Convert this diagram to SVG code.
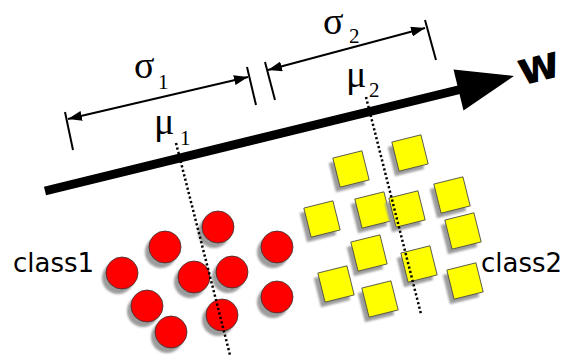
<svg xmlns="http://www.w3.org/2000/svg" xmlns:xlink="http://www.w3.org/1999/xlink" width="568" height="358" viewBox="0 0 568 358">
<style>
.shadow{fill:#9c9c9c;}
.dotf{fill:#ff0000;stroke:#333;stroke-width:0.8;}
.sqf{fill:#ffff00;stroke:#444;stroke-width:0.8;}
.lbl{font-family:"DejaVu Sans",Verdana,sans-serif;font-size:26px;fill:#000;}
.w{font-family:"DejaVu Sans","Liberation Sans",sans-serif;font-weight:bold;font-size:46px;fill:#000;}
.gk{font-family:"Liberation Serif","Times New Roman",serif;font-size:38px;fill:#000;}
.sub{font-family:"Liberation Serif","Times New Roman",serif;font-size:21px;fill:#000;}
.dim{stroke:#000;stroke-width:2;fill:none;}
.tick{stroke:#000;stroke-width:2;fill:none;}
.dots{stroke:#000;stroke-width:2.5;stroke-dasharray:2.2 2.4;fill:none;}
</style>
<defs>
<marker id="ah" viewBox="0 0 14 10" refX="14" refY="5" markerWidth="14" markerHeight="10" markerUnits="userSpaceOnUse" orient="auto-start-reverse">
<path d="M0,0 L14,5 L0,10 Z" fill="#000"/>
</marker>
<filter id="soft" x="-30%" y="-30%" width="160%" height="160%"><feGaussianBlur stdDeviation="0.8"/></filter>
<g id="dot">
<circle cx="-4" cy="5" r="16" class="shadow" filter="url(#soft)"/>
<circle cx="0" cy="0" r="16" class="dotf"/>
</g>
<g id="sq">
<rect x="-15" y="-15" width="30" height="30" class="shadow" filter="url(#soft)" transform="translate(-4,5) rotate(-14)"/>
<rect x="-15" y="-15" width="30" height="30" class="sqf" transform="rotate(-14)"/>
</g>
</defs>

<g id="axis-w">
<line x1="45" y1="191" x2="460" y2="89.5" stroke="#000" stroke-width="9"/>
<polygon points="514,76 453.5,69.6 463.5,110.4" fill="#000"/>
<text class="w" transform="translate(539,68) rotate(-14)" x="0" y="13" text-anchor="middle">w</text>
</g>

<g id="class1-points">
<g id="c1" transform="translate(218,227)"><use xlink:href="#dot" href="#dot"/></g>
<g id="c2" transform="translate(165,247)"><use xlink:href="#dot" href="#dot"/></g>
<g id="c3" transform="translate(277,247)"><use xlink:href="#dot" href="#dot"/></g>
<g id="c4" transform="translate(122,273)"><use xlink:href="#dot" href="#dot"/></g>
<g id="c5" transform="translate(194,277)"><use xlink:href="#dot" href="#dot"/></g>
<g id="c6" transform="translate(232,272)"><use xlink:href="#dot" href="#dot"/></g>
<g id="c7" transform="translate(147,306)"><use xlink:href="#dot" href="#dot"/></g>
<g id="c8" transform="translate(222,315)"><use xlink:href="#dot" href="#dot"/></g>
<g id="c9" transform="translate(277,297)"><use xlink:href="#dot" href="#dot"/></g>
<g id="c10" transform="translate(171,332)"><use xlink:href="#dot" href="#dot"/></g>
</g>

<g id="class2-points">
<g id="s1" transform="translate(351,169)"><use xlink:href="#sq" href="#sq"/></g>
<g id="s2" transform="translate(410,153)"><use xlink:href="#sq" href="#sq"/></g>
<g id="s3" transform="translate(322,219)"><use xlink:href="#sq" href="#sq"/></g>
<g id="s4" transform="translate(373,210)"><use xlink:href="#sq" href="#sq"/></g>
<g id="s5" transform="translate(407,209)"><use xlink:href="#sq" href="#sq"/></g>
<g id="s6" transform="translate(452,195)"><use xlink:href="#sq" href="#sq"/></g>
<g id="s7" transform="translate(463,231)"><use xlink:href="#sq" href="#sq"/></g>
<g id="s8" transform="translate(369,253)"><use xlink:href="#sq" href="#sq"/></g>
<g id="s9" transform="translate(419,264)"><use xlink:href="#sq" href="#sq"/></g>
<g id="s10" transform="translate(336,284)"><use xlink:href="#sq" href="#sq"/></g>
<g id="s11" transform="translate(380,299)"><use xlink:href="#sq" href="#sq"/></g>
<g id="s12" transform="translate(465,281)"><use xlink:href="#sq" href="#sq"/></g>
</g>

<g id="connectors">
<line class="tick" x1="65" y1="112" x2="73" y2="150"/>
<line class="tick" x1="247" y1="67" x2="256" y2="105"/>
<line class="dim" x1="68" y1="119" x2="248" y2="77" marker-start="url(#ah)" marker-end="url(#ah)"/>
<line class="tick" x1="265" y1="62" x2="275" y2="100"/>
<line class="tick" x1="425" y1="20" x2="436" y2="60"/>
<line class="dim" x1="268" y1="70" x2="425" y2="28" marker-start="url(#ah)" marker-end="url(#ah)"/>
<line class="dots" x1="176" y1="143" x2="230" y2="355"/>
<line class="dots" x1="366" y1="97" x2="421" y2="314"/>
</g>

<g id="labels">
<text class="gk" x="134" y="78">σ</text><text class="sub" x="158" y="89">1</text>
<text class="gk" x="154" y="134">μ</text><text class="sub" x="180" y="145">1</text>
<text class="gk" x="323" y="34">σ</text><text class="sub" x="349" y="43">2</text>
<text class="gk" x="346" y="87">μ</text><text class="sub" x="369" y="97">2</text>
<text id="class1" class="lbl" x="13" y="272">class1</text>
<text id="class2" class="lbl" x="481" y="272">class2</text>
</g>
</svg>
